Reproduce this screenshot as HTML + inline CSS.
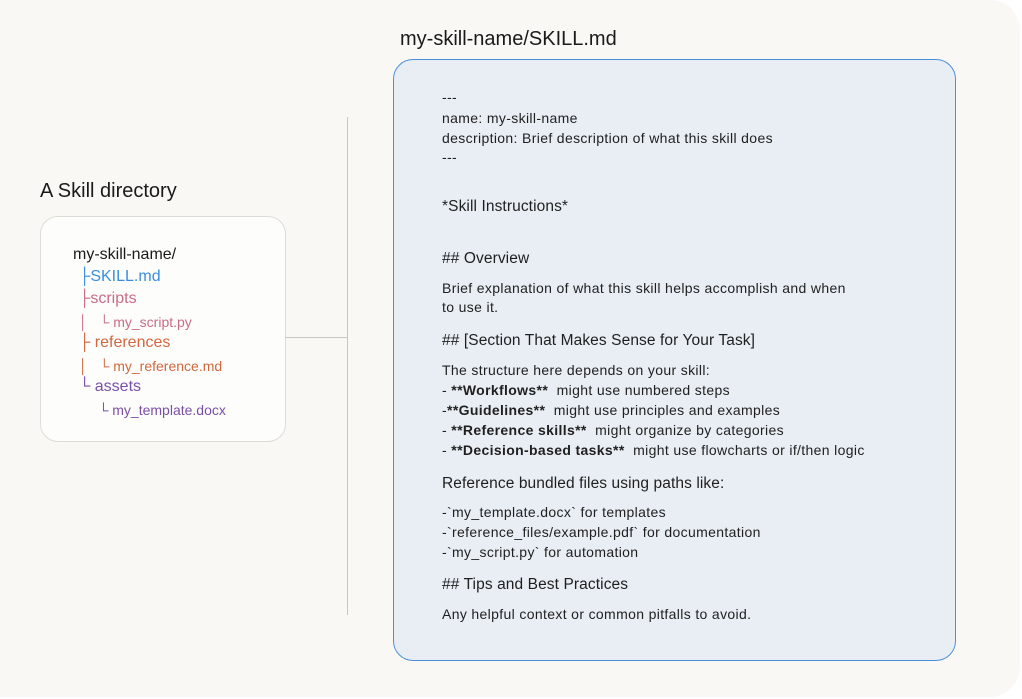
<!DOCTYPE html>
<html><head><meta charset="utf-8"><style>
body{margin:0;width:1022px;height:699px;background:#fff;font-family:"Liberation Sans",sans-serif;position:relative;overflow:hidden}
.outer{position:absolute;left:0;top:0;width:1020px;height:697px;background:#f9f8f4;border-radius:0 30px 30px 0}
.a{position:absolute;white-space:nowrap;line-height:20px}
.t{font-size:14px;color:#1f1f1f;left:442px;letter-spacing:0.35px}
.h{font-size:15.5px;color:#1f1f1f;left:442px;letter-spacing:0.1px}
b{font-weight:bold}
</style></head><body>
<div class="outer"></div>
<div class="a" style="left:40px;top:181px;font-size:20px;color:#1a1a1a">A Skill directory</div>
<div class="a" style="left:400px;top:29px;font-size:20px;color:#1a1a1a">my-skill-name/SKILL.md</div>
<div style="position:absolute;left:40px;top:216px;width:244px;height:224px;background:#fdfdfb;border:1px solid #dedcd6;border-radius:18px"></div>
<div style="position:absolute;left:347px;top:117px;width:1px;height:498px;background:#c8c6c0"></div>
<div style="position:absolute;left:285px;top:337px;width:62px;height:1px;background:#c8c6c0"></div>
<div style="position:absolute;left:393px;top:59px;width:561px;height:600px;background:#e9eef5;border:1.5px solid #4a90d9;border-radius:20px"></div>
<div class="a" style="left:73px;top:245px;font-size:16px;color:#1a1a1a">my-skill-name/</div>
<div class="a" style="left:79px;top:267px;font-size:16px;color:#3a8ee0">├SKILL.md</div>
<div class="a" style="left:79px;top:289px;font-size:16px;color:#c96b8a">├scripts</div>
<div class="a" style="left:79px;top:312px;font-size:14px;color:#c96b8a">│&nbsp;&nbsp;&nbsp;└ my_script.py</div>
<div class="a" style="left:79px;top:333px;font-size:16px;color:#d0673f">├ references</div>
<div class="a" style="left:79px;top:356px;font-size:14px;color:#d0673f">│&nbsp;&nbsp;&nbsp;└ my_reference.md</div>
<div class="a" style="left:79px;top:377px;font-size:16px;color:#7b4fa6">└ assets</div>
<div class="a" style="left:79px;top:400px;font-size:14px;color:#7b4fa6">&nbsp;&nbsp;&nbsp;&nbsp;&nbsp;└ my_template.docx</div>
<div class="a t" style="top:87px">---</div>
<div class="a t" style="top:108px">name: my-skill-name</div>
<div class="a t" style="top:128px">description: Brief description of what this skill does</div>
<div class="a t" style="top:147px">---</div>
<div class="a h" style="top:197px">*Skill Instructions*</div>
<div class="a h" style="top:249px">## Overview</div>
<div class="a t" style="top:278px">Brief explanation of what this skill helps accomplish and when</div>
<div class="a t" style="top:297px">to use it.</div>
<div class="a h" style="top:331px">## [Section That Makes Sense for Your Task]</div>
<div class="a t" style="top:360px">The structure here depends on your skill:</div>
<div class="a t" style="top:380px">- <b>**Workflows**</b>&nbsp; might use numbered steps</div>
<div class="a t" style="top:400px">-<b>**Guidelines**</b>&nbsp; might use principles and examples</div>
<div class="a t" style="top:420px">- <b>**Reference skills**</b>&nbsp; might organize by categories</div>
<div class="a t" style="top:440px">- <b>**Decision-based tasks**</b>&nbsp; might use flowcharts or if/then logic</div>
<div class="a h" style="top:474px">Reference bundled files using paths like:</div>
<div class="a t" style="top:502px">-`my_template.docx` for templates</div>
<div class="a t" style="top:522px">-`reference_files/example.pdf` for documentation</div>
<div class="a t" style="top:542px">-`my_script.py` for automation</div>
<div class="a h" style="top:575px">## Tips and Best Practices</div>
<div class="a t" style="top:604px">Any helpful context or common pitfalls to avoid.</div>
</body></html>
